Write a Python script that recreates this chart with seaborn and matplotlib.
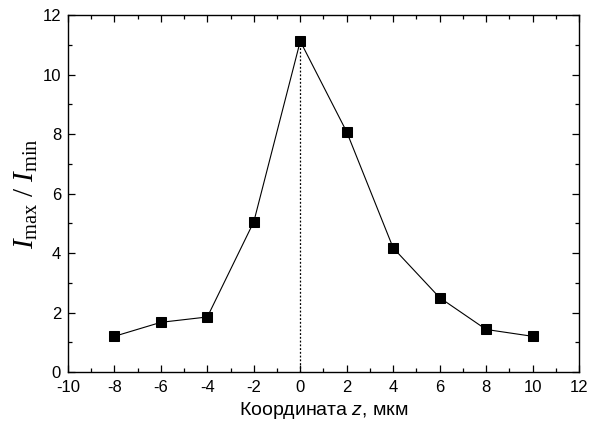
import matplotlib
matplotlib.use("Agg")
import matplotlib.pyplot as plt
import seaborn as sns
import pandas as pd
from matplotlib.ticker import MultipleLocator

z_um = [-8, -6, -4, -2, 0, 2, 4, 6, 8, 10]
ratio = [1.2, 1.67, 1.85, 5.05, 11.12, 8.07, 4.17, 2.5, 1.43, 1.2]
x_ticks = [-10, -8, -6, -4, -2, 0, 2, 4, 6, 8, 10, 12]
y_ticks = [0, 2, 4, 6, 8, 10, 12]

sns.set_theme(style="ticks")
plt.rcParams['font.family'] = ['Liberation Sans', 'DejaVu Sans']
plt.rcParams['axes.unicode_minus'] = False
plt.rcParams['text.color'] = 'black'
plt.rcParams['axes.labelcolor'] = 'black'
plt.rcParams['xtick.color'] = 'black'
plt.rcParams['ytick.color'] = 'black'
plt.rcParams['mathtext.fontset'] = 'custom'
plt.rcParams['mathtext.rm'] = 'Liberation Serif'
plt.rcParams['mathtext.it'] = 'Liberation Serif:italic'
plt.rcParams['mathtext.sf'] = 'Liberation Sans:italic'

df = pd.DataFrame({"z": z_um, "r": ratio})

fig = plt.figure(figsize=(5.99, 4.25), dpi=100)
ax = fig.add_axes([0.1135, 0.1247, 0.8531, 0.84])

peak = df.loc[df["r"].idxmax()]
ax.plot([peak["z"], peak["z"]], [0, peak["r"]], color="black", lw=0.9, ls=(0, (1.5, 1.5)))

sns.lineplot(data=df, x="z", y="r", ax=ax, color="black", lw=0.8, marker="s",
             markersize=7, markeredgecolor="black", markerfacecolor="black")

ax.set_xlim(x_ticks[0], x_ticks[-1])
ax.set_ylim(y_ticks[0], y_ticks[-1])
ax.set_xticks(x_ticks)
ax.set_yticks(y_ticks)
ax.xaxis.set_minor_locator(MultipleLocator(1))
ax.yaxis.set_minor_locator(MultipleLocator(1))
ax.tick_params(which="both", direction="in", top=True, right=True, labeltop=False,
               labelright=False, color="black", labelcolor="black", width=0.9, labelsize=12)
ax.tick_params(axis="x", which="major", pad=6)
ax.tick_params(axis="y", which="major", pad=5)
ax.tick_params(which="major", length=5)
ax.tick_params(which="minor", length=3)
for s in ax.spines.values():
    s.set_linewidth(1.0)
    s.set_color("black")

ax.set_xlabel(r"Координата $\mathsf{z}$, мкм", fontsize=14, labelpad=3)
ax.set_ylabel(r"$I_{\rm max}\ /\ I_{\rm min}$", fontsize=21, labelpad=2)

fig.savefig("out.png", dpi=100)
